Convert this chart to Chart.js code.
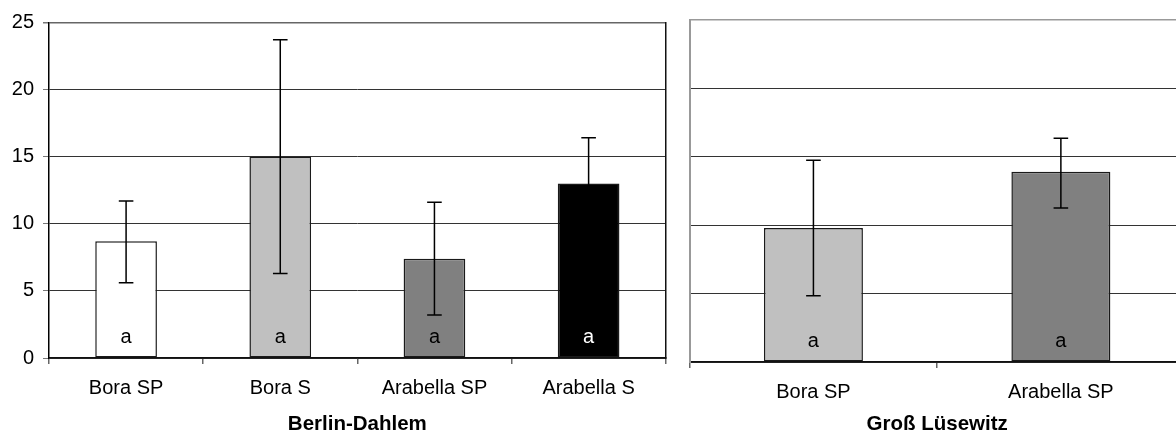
<!DOCTYPE html>
<html><head><meta charset="utf-8">
<script src="https://cdn.jsdelivr.net/npm/chart.js@4/dist/chart.umd.min.js"></script>
<style>
html,body{margin:0;padding:0;background:#fff;overflow:hidden;width:1176px;height:435px;}
canvas{position:absolute;top:0;}
#c1{left:0}
#c2{left:680px}
</style></head><body>
<canvas id="c1" width="685" height="435"></canvas>
<canvas id="c2" width="510" height="435"></canvas>
<script>
// ---- data ----
const yTicks = [0, 5, 10, 15, 20, 25];

const dahlemTitle = 'Berlin-Dahlem';
const dahlemCategories = ['Bora SP', 'Bora S', 'Arabella SP', 'Arabella S'];
const dahlemMeans = [8.7, 15.0, 7.4, 13.0];
const dahlemLow = [5.6, 6.3, 3.2, 9.6];
const dahlemHigh = [11.7, 23.7, 11.6, 16.4];
const dahlemLetters = ['a', 'a', 'a', 'a'];

const luesewitzTitle = 'Groß Lüsewitz';
const luesewitzCategories = ['Bora SP', 'Arabella SP'];
const luesewitzMeans = [9.8, 13.9];
const luesewitzLow = [4.85, 11.25];
const luesewitzHigh = [14.75, 16.35];
const luesewitzLetters = ['a', 'a'];

// ---- styles ----
const dahlemColors = ['#ffffff', '#c0c0c0', '#808080', '#000000'];
const dahlemLetterColors = ['#000', '#000', '#000', '#fff'];
const luesewitzColors = ['#c0c0c0', '#808080'];
const luesewitzLetterColors = ['#000', '#000'];

const FONT = '"Liberation Sans", Arial, Helvetica, sans-serif';
const FS = 20;
Chart.defaults.font.family = FONT;
Chart.defaults.color = '#000';

const errorBars = {
  id: 'errorBars',
  afterDatasetsDraw(chart, args, opts) {
    const ctx = chart.ctx, meta = chart.getDatasetMeta(0), y = chart.scales.y;
    ctx.save();
    ctx.strokeStyle = '#000';
    ctx.lineWidth = 1.5;
    meta.data.forEach((bar, i) => {
      const x = bar.x, yl = y.getPixelForValue(opts.low[i]), yh = y.getPixelForValue(opts.high[i]);
      ctx.beginPath();
      ctx.moveTo(x, yl); ctx.lineTo(x, yh);
      ctx.moveTo(x - 7.3, yl); ctx.lineTo(x + 7.3, yl);
      ctx.moveTo(x - 7.3, yh); ctx.lineTo(x + 7.3, yh);
      ctx.stroke();
    });
    ctx.font = FS + 'px ' + FONT;
    ctx.textAlign = 'center';
    ctx.textBaseline = 'alphabetic';
    meta.data.forEach((bar, i) => {
      ctx.fillStyle = opts.letterColors[i];
      ctx.fillText(opts.letters[i], bar.x, chart.chartArea.bottom - 15);
    });
    ctx.restore();
  }
};

function makeChart(id, cats, means, low, high, letters, colors, letterColors, title, o) {
  const scales = {
    x: {
      type: 'category',
      offset: true,
      grid: { display: true, drawOnChartArea: false, drawTicks: true, tickLength: 6, offset: true, color: '#666', lineWidth: 1.5 },
      border: { display: true, color: '#111', width: 1.5 },
      ticks: { font: { size: FS }, padding: o.xPad, maxRotation: 0, autoSkip: false, color: '#000' },
      title: { display: true, text: title, font: { size: 20.5, weight: 'bold', lineHeight: 1 }, padding: { top: 0, bottom: 0 }, color: '#000' },
      afterFit: s => { s.height = o.xHeight; }
    },
    y: {
      min: yTicks[0], max: yTicks[yTicks.length - 1],
      ticks: { stepSize: yTicks[1] - yTicks[0], display: o.showY, font: { size: FS }, padding: 9, color: '#000' },
      grid: {
        drawTicks: o.showY, tickLength: 6, tickColor: '#777',
        color: c => (c.tick && c.tick.value === yTicks[yTicks.length - 1]) ? o.topColor : '#333',
        lineWidth: c => (c.tick && c.tick.value === yTicks[yTicks.length - 1]) ? 1.5 : 1
      },
      border: { display: true, color: o.leftBorder, width: o.leftBorderWidth },
      afterFit: s => { s.width = o.yWidth; }
    }
  };
  if (o.rightBorder) {
    scales.y2 = {
      position: 'right', min: yTicks[0], max: yTicks[yTicks.length - 1],
      ticks: { display: false },
      grid: { drawOnChartArea: false, drawTicks: false },
      border: { display: true, color: '#111', width: 1.5 },
      afterFit: s => { s.width = 0; }
    };
  }
  return new Chart(document.getElementById(id), {
    type: 'bar',
    data: {
      labels: cats,
      datasets: [{
        data: means,
        backgroundColor: colors,
        borderColor: '#1a1a1a',
        borderWidth: 1.5,
        borderSkipped: false,
        categoryPercentage: 1,
        barPercentage: 0.4
      }]
    },
    options: {
      responsive: false,
      animation: false,
      devicePixelRatio: 1,
      layout: { padding: o.padding },
      plugins: {
        legend: { display: false },
        tooltip: { enabled: false },
        errorBars: { low, high, letters, letterColors }
      },
      scales
    },
    plugins: [errorBars]
  });
}

makeChart('c1', dahlemCategories, dahlemMeans, dahlemLow, dahlemHigh, dahlemLetters,
  dahlemColors, dahlemLetterColors, dahlemTitle, {
    padding: { left: 0, top: 22.3, right: 19.3, bottom: 0 },
    xHeight: 77, yWidth: 49, xPad: 12, showY: true,
    topColor: '#666', leftBorder: '#000', leftBorderWidth: 1.5, rightBorder: true
  });

makeChart('c2', luesewitzCategories, luesewitzMeans, luesewitzLow, luesewitzHigh, luesewitzLetters,
  luesewitzColors, luesewitzLetterColors, luesewitzTitle, {
    padding: { left: 9.7, top: 20, right: 5.4, bottom: 0 },
    xHeight: 73, yWidth: 0, xPad: 12, showY: false,
    topColor: '#999', leftBorder: '#999', leftBorderWidth: 2, rightBorder: false
  });
</script>
</body></html>
